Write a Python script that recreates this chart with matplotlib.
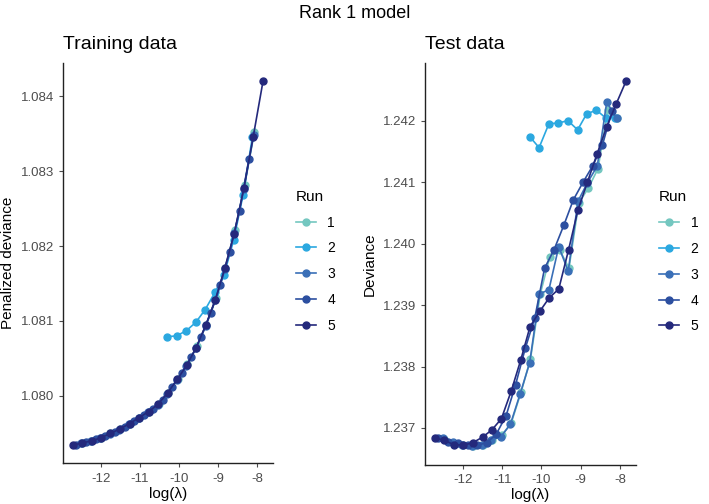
import matplotlib
matplotlib.use("Agg")
import matplotlib.pyplot as plt
from matplotlib.ticker import FormatStrFormatter

plt.rcParams['font.family'] = ['Liberation Sans', 'DejaVu Sans']

runs = ['1', '2', '3', '4', '5']
colors = ['#74c7c0', '#2ba8e0', '#3a6fb7', '#2c4fa0', '#24297c']

# log(lambda) grid of each run
lam = {
    '1': [-12.48, -12.24, -11.99, -11.75, -11.50, -11.26, -11.01, -10.77, -10.52, -10.28,
          -10.03, -9.79, -9.54, -9.30, -9.05, -8.81, -8.56, -8.32, -8.07],
    '2': [-10.30, -10.06, -9.81, -9.57, -9.33, -9.08, -8.85, -8.60, -8.36, -8.12],
    '3': [-12.50, -12.26, -12.01, -11.77, -11.52, -11.28, -11.03, -10.79, -10.54, -10.30,
          -10.05, -9.81, -9.56, -9.32, -9.07, -8.83, -8.58, -8.34, -8.09],
    '4': [-12.62, -12.37, -12.13, -11.88, -11.64, -11.39, -11.15, -10.90, -10.66, -10.41,
          -10.17, -9.92, -9.68, -9.43, -9.19, -8.94, -8.70, -8.45, -8.21],
    '5': [-12.72, -12.48, -12.23, -11.99, -11.75, -11.50, -11.26, -11.02, -10.77, -10.53,
          -10.29, -10.04, -9.80, -9.56, -9.31, -9.07, -8.83, -8.59, -8.34, -8.10, -7.85],
}

# penalized deviance on training data
train = {
    '1': [1.07937, 1.07940, 1.07944, 1.07950, 1.07956, 1.07963, 1.07971, 1.07979, 1.07989, 1.08004,
          1.08023, 1.08042, 1.08066, 1.08095, 1.08130, 1.08171, 1.08222, 1.08281, 1.08352],
    '2': [1.08079, 1.08080, 1.08087, 1.08098, 1.08115, 1.08138, 1.08161, 1.08208, 1.08268, 1.08346],
    '3': [1.07937, 1.07940, 1.07944, 1.07949, 1.07955, 1.07962, 1.07970, 1.07978, 1.07988, 1.08003,
          1.08021, 1.08040, 1.08064, 1.08093, 1.08128, 1.08169, 1.08218, 1.08276, 1.08348],
    '4': [1.07935, 1.07938, 1.07942, 1.07947, 1.07952, 1.07959, 1.07966, 1.07974, 1.07983, 1.07995,
          1.08012, 1.08031, 1.08052, 1.08079, 1.08110, 1.08148, 1.08192, 1.08247, 1.08316],
    '5': [1.07934, 1.07937, 1.07940, 1.07944, 1.07950, 1.07956, 1.07963, 1.07971, 1.07979, 1.07989,
          1.08004, 1.08022, 1.08041, 1.08064, 1.08095, 1.08128, 1.08170, 1.08216, 1.08277, 1.08346,
          1.08420],
}

# deviance on test data
test = {
    '1': [1.23682, 1.23676, 1.23673, 1.23670, 1.23672, 1.23681, 1.23688, 1.23708, 1.23758, 1.23812,
          1.23918, 1.23978, 1.23990, 1.23960, 1.24066, 1.24090, 1.24122, 1.24217, 1.24205],
    '2': [1.24174, 1.24156, 1.24195, 1.24196, 1.24200, 1.24185, 1.24211, 1.24217, 1.24204, 1.24205],
    '3': [1.23683, 1.23677, 1.23673, 1.23670, 1.23672, 1.23680, 1.23686, 1.23706, 1.23756, 1.23806,
          1.23918, 1.23925, 1.23995, 1.23955, 1.24069, 1.24099, 1.24126, 1.24230, 1.24204],
    '4': [1.23683, 1.23678, 1.23675, 1.23672, 1.23672, 1.23676, 1.23690, 1.23720, 1.23770, 1.23830,
          1.23879, 1.23960, 1.23990, 1.24030, 1.24071, 1.24100, 1.24126, 1.24160, 1.24215],
    '5': [1.23684, 1.23680, 1.23673, 1.23672, 1.23676, 1.23685, 1.23697, 1.23715, 1.23760, 1.23810,
          1.23865, 1.23890, 1.23912, 1.23926, 1.23990, 1.24055, 1.24100, 1.24145, 1.24190, 1.24227,
          1.24264],
}

xticks = [-12, -11, -10, -9, -8]

fig = plt.figure(figsize=(7.09, 5.04), dpi=100)
ax1 = fig.add_axes([0.0889, 0.0804, 0.2955, 0.7946])
ax2 = fig.add_axes([0.5994, 0.0780, 0.2970, 0.7970])

panels = [(ax1, train, 'Training data', 'Penalized deviance'),
          (ax2, test, 'Test data', 'Deviance')]

for ax, data, title, ylab in panels:
    for r, c in zip(runs, colors):
        ax.plot(lam[r], data[r], color=c, lw=1.2, marker='o', ms=5, label=r)
    ax.margins(x=0.05, y=0.05)
    ax.set_xticks(xticks)
    ax.set_xticklabels([str(t) for t in xticks])
    ax.yaxis.set_major_formatter(FormatStrFormatter('%.3f'))
    for s in ['top', 'right']:
        ax.spines[s].set_visible(False)
    for s in ['left', 'bottom']:
        ax.spines[s].set_linewidth(1.0)
        ax.spines[s].set_color('#222222')
    ax.tick_params(labelsize=9.5, colors='#4d4d4d', length=3, width=0.8)
    ax.set_xlabel('log(λ)', fontsize=11, labelpad=2)
    ax.set_ylabel(ylab, fontsize=11, labelpad=4)
    ax.set_title(title, loc='left', fontsize=14, pad=10)
    ax.legend(title='Run', loc='center left', bbox_to_anchor=(1.05, 0.505),
              frameon=False, fontsize=10, title_fontsize=11, handlelength=1.5,
              labelspacing=0.85, alignment='left')

ax1.set_yticks([1.080, 1.081, 1.082, 1.083, 1.084])
ax2.set_yticks([1.237, 1.238, 1.239, 1.240, 1.241, 1.242])

fig.suptitle('Rank 1 model', fontsize=13, y=0.99)

fig.savefig('out.png', dpi=100)
